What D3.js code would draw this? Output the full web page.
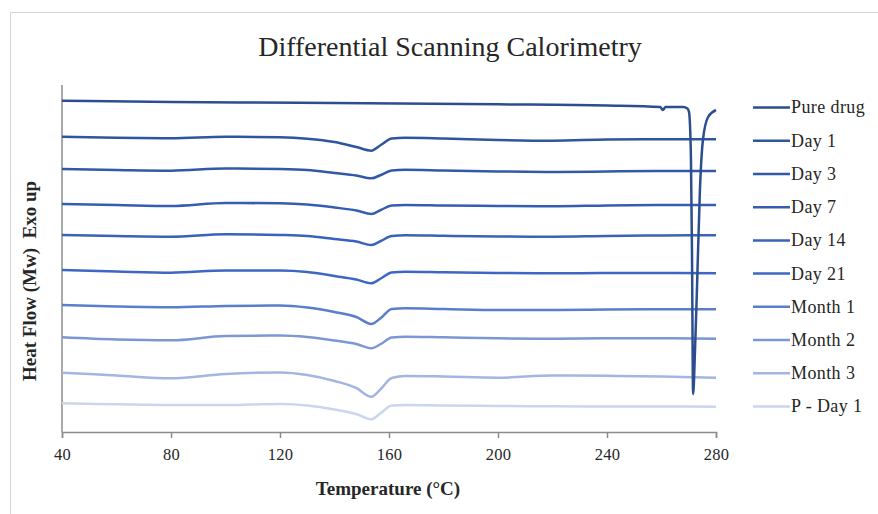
<!DOCTYPE html>
<html>
<head>
<meta charset="utf-8">
<script src="https://cdn.jsdelivr.net/npm/d3@7"></script>
<style>
  html, body { margin: 0; padding: 0; background: #fff; }
  svg text { font-family: "Liberation Serif", "DejaVu Serif", serif; fill: #262626; }
  .axis path, .axis line { stroke: #8c8c8c; stroke-width: 1.5; }
  .axis text { font-size: 16.5px; letter-spacing: 0.2px; }
</style>
</head>
<body>
<svg id="chart" width="878" height="514"></svg>
<script>
/* ── DATI ─────────────────────────────────────── */

const serie = ["Pure drug", "Day 1", "Day 3", "Day 7", "Day 14", "Day 21",
               "Month 1", "Month 2", "Month 3", "P - Day 1"];

const colori = ["#2c4e90", "#2f559f", "#3259a9", "#355eb3", "#3962bb", "#3d67c2",
                "#5a7ecb", "#7c97d4", "#a3b5e0", "#cbd5ee"];

const xTicks = [40, 80, 120, 160, 200, 240, 280];

// temperature (°C) comuni alle curve dei campioni
const temps = [40, 60, 80, 100, 120, 130, 140, 148, 153.5, 157, 161, 166, 180, 200, 220, 240, 260, 280];

// heat flow (unità arbitrarie, exo up)
const day1   = [295.3, 294.2, 293.7, 295.2, 294.7, 293.3, 290, 285, 281.3, 287, 293.5, 294.2, 293.5, 292, 291.3, 292.5, 292.8, 292.7];
const day3   = [263, 262, 261.3, 263.5, 263, 262, 259, 256.5, 253.7, 257, 261.5, 262.2, 261.5, 260.5, 260, 260.5, 261, 261];
const day7   = [228, 227, 226, 229, 228.7, 227.5, 224.5, 221.5, 218, 222, 226.5, 227, 226.5, 226, 225.7, 226.5, 227, 227];
const day14  = [197, 196, 195.3, 197.7, 197, 196, 193, 190.5, 187, 191, 196, 196.7, 196.2, 195.5, 195.3, 196, 196.5, 196.7];
const day21  = [162, 160.5, 159.3, 161.5, 161.5, 160, 156, 152.5, 148.7, 153.5, 159.5, 160.3, 159.7, 159, 158.7, 159, 159, 158.7];
const month1 = [127, 125.5, 124.7, 126, 126.5, 124.5, 120, 115, 108, 114, 123, 123.7, 123, 122, 122, 122.5, 122.8, 122.7];
const month2 = [94.7, 92.5, 91.7, 96, 96.5, 95, 91.5, 88, 83.7, 88, 94.5, 95.3, 94.7, 93.7, 93.3, 93.7, 93.7, 93.3];
const month3 = [59.3, 56.5, 53.7, 58, 59.5, 57, 51, 44, 35.3, 43, 54, 56, 55.5, 54.3, 56.5, 56.2, 55.5, 54.3];
const pDay1  = [28.7, 27.8, 27, 27, 28, 26.5, 22.5, 18, 12.7, 19, 26.5, 27, 26.5, 26, 25.7, 25.5, 25.5, 25.3];

// farmaco puro: picco di fusione vicino a 272 °C
const tempsPuro = [40, 80, 127, 200, 240, 259.5, 260.5, 261.5, 268, 269.5, 270.1, 270.8, 271.2, 271.6, 272.3, 273.0, 274.1, 275.2, 277.1, 280];
const puro      = [331.3, 330, 329.3, 327.7, 326.5, 325, 322, 325, 325, 323.5, 320, 275, 175, 38, 82, 142, 242, 292, 315, 322];

const valori = [puro, day1, day3, day7, day14, day21, month1, month2, month3, pDay1];

/* ── LAYOUT ───────────────────────────────────── */

const svg = d3.select("#chart");
const M = { left: 62, right: 716, top: 85, bottom: 432 };

const x = d3.scaleLinear().domain([40, 280]).range([M.left, M.right]);
const y = d3.scaleLinear().domain([0, 347]).range([M.bottom, M.top]);

// bordo del riquadro
svg.append("path")
  .attr("d", "M10.5,514 V12.5 H878")
  .attr("fill", "none")
  .attr("stroke", "#d4d4d4")
  .attr("stroke-width", 1);

svg.append("text")
  .attr("x", 450).attr("y", 56)
  .attr("text-anchor", "middle")
  .style("font-size", "28px")
  .text("Differential Scanning Calorimetry");

/* ── ASSI ─────────────────────────────────────── */

svg.append("g")
  .attr("class", "axis")
  .attr("transform", `translate(0,${M.bottom})`)
  .call(d3.axisBottom(x).tickValues(xTicks).tickSizeOuter(6).tickSize(6).tickPadding(7))
  .call(g => g.selectAll("text").attr("dy", "0.9em"));

svg.append("line")
  .attr("x1", M.left).attr("x2", M.left)
  .attr("y1", M.top).attr("y2", M.bottom)
  .attr("stroke", "#8c8c8c")
  .attr("stroke-width", 1.5);

svg.append("text")
  .attr("x", 388).attr("y", 495)
  .attr("text-anchor", "middle")
  .style("font-size", "19px")
  .style("font-weight", "bold")
  .text("Temperature (°C)");

svg.append("text")
  .attr("transform", "translate(36,281) rotate(-90)")
  .attr("text-anchor", "middle")
  .style("font-size", "19px")
  .style("font-weight", "bold")
  .style("white-space", "pre")
  .text("Heat Flow (Mw)  Exo up");

/* ── CURVE ────────────────────────────────────── */

const line = d3.line()
  .x(d => x(d[0]))
  .y(d => y(d[1]))
  .curve(d3.curveMonotoneX);

const gCurve = svg.append("g");

// disegna dal basso verso l'alto, così il picco del farmaco puro resta sopra
for (let i = serie.length - 1; i >= 0; i--) {
  const t = i === 0 ? tempsPuro : temps;
  const pts = t.map((tt, j) => [tt, valori[i][j]]);
  gCurve.append("path")
    .datum(pts)
    .attr("fill", "none")
    .attr("stroke", colori[i])
    .attr("stroke-width", 2.5)
    .attr("stroke-linejoin", "round")
    .attr("d", line);
}

/* ── LEGENDA ──────────────────────────────────── */

const yLeg = d3.scalePoint().domain(serie).range([107.5, 406.5]);

const leg = svg.append("g")
  .selectAll("g")
  .data(serie)
  .join("g")
  .attr("transform", d => `translate(753,${yLeg(d)})`);

leg.append("line")
  .attr("x1", 0).attr("x2", 37)
  .attr("stroke", (d, i) => colori[i])
  .attr("stroke-width", 2.5);

leg.append("text")
  .attr("x", 38).attr("dy", "0.33em")
  .style("font-size", "18px")
  .style("letter-spacing", "0.4px")
  .text(d => d);
</script>
</body>
</html>
